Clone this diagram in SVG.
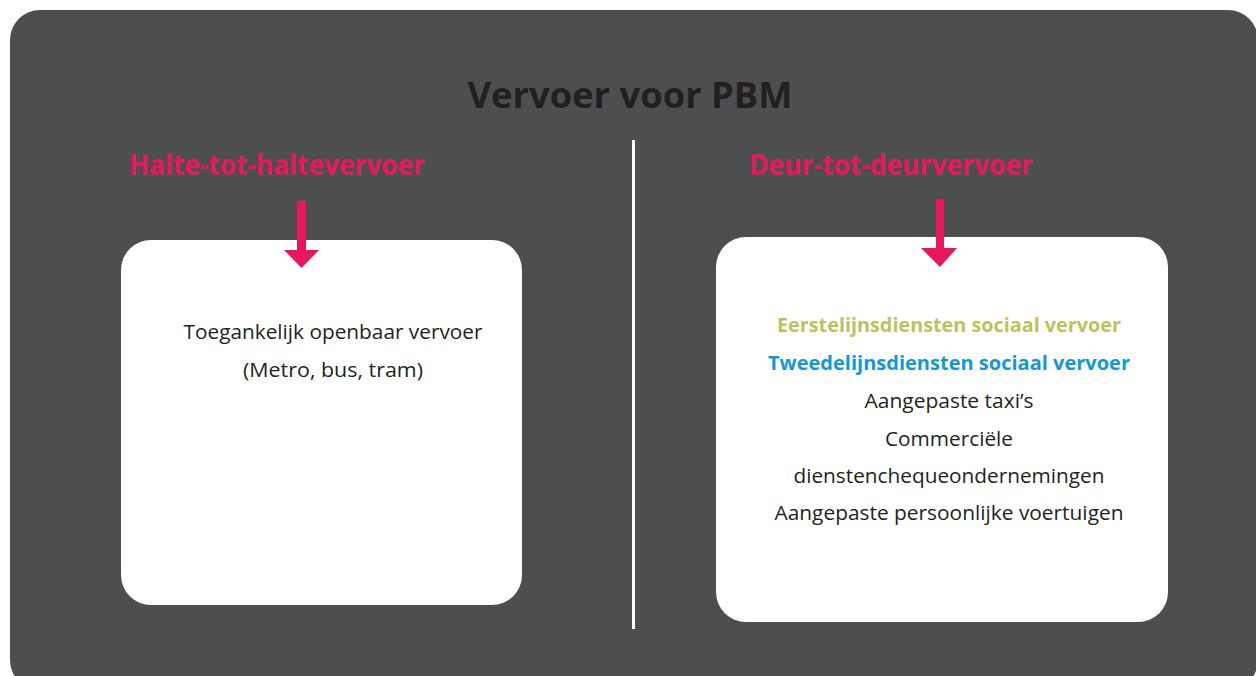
<svg xmlns="http://www.w3.org/2000/svg" width="1256" height="676" viewBox="0 0 1256 676">
  <style>
    .t { font-family: "Open Sans", "Liberation Sans", sans-serif; text-anchor: middle; }
    .title { font-size: 35px; font-weight: bold; fill: #231F20; }
    .head { font-size: 28px; font-weight: bold; fill: #E8175D; }
    .body { font-size: 19.5px; fill: #231F20; }
    .bold { font-size: 19.5px; font-weight: bold; }
    .box { fill: #FFFFFF; }
    .arrow { fill: #E8175D; }
  </style>
  <rect x="0" y="0" width="1256" height="676" fill="#FFFFFF"/>
  <g id="background">
    <rect x="10" y="10" width="1248" height="680" rx="30" ry="30" fill="#4D4E50"/>
  </g>
  <g id="title">
    <text class="t title" x="630" y="108" textLength="325" lengthAdjust="spacingAndGlyphs">Vervoer voor PBM</text>
  </g>
  <g id="divider">
    <rect x="632" y="140" width="3" height="489" fill="#FFFFFF"/>
  </g>
  <g id="halte-heading">
    <text class="t head" x="277" y="175" textLength="296" lengthAdjust="spacingAndGlyphs">Halte-tot-haltevervoer</text>
  </g>
  <g id="deur-heading">
    <text class="t head" x="891" y="175" textLength="284" lengthAdjust="spacingAndGlyphs">Deur-tot-deurvervoer</text>
  </g>
  <g id="halte-box">
    <rect class="box" x="121" y="240" width="401" height="365" rx="30" ry="30"/>
    <text class="t body" x="333" y="339" textLength="299" lengthAdjust="spacingAndGlyphs">Toegankelijk openbaar vervoer</text>
    <text class="t body" x="333" y="377" textLength="180" lengthAdjust="spacingAndGlyphs">(Metro, bus, tram)</text>
  </g>
  <g id="deur-box">
    <rect class="box" x="716" y="237" width="452" height="385" rx="30" ry="30"/>
    <text class="t bold" x="949" y="332" fill="#BCC35E" textLength="344" lengthAdjust="spacingAndGlyphs">Eerstelijnsdiensten sociaal vervoer</text>
    <text class="t bold" x="949" y="370" fill="#1597D7" textLength="362" lengthAdjust="spacingAndGlyphs">Tweedelijnsdiensten sociaal vervoer</text>
    <text class="t body" x="949" y="408" textLength="169" lengthAdjust="spacingAndGlyphs">Aangepaste taxi’s</text>
    <text class="t body" x="949" y="446" textLength="128" lengthAdjust="spacingAndGlyphs">Commerciële</text>
    <text class="t body" x="949" y="483" textLength="311" lengthAdjust="spacingAndGlyphs">dienstenchequeondernemingen</text>
    <text class="t body" x="949" y="520" textLength="349" lengthAdjust="spacingAndGlyphs">Aangepaste persoonlijke voertuigen</text>
  </g>
  <g id="connectors">
    <path class="arrow" d="M297,201 H306 V250 H319 L301.5,268 L284,250 H297 Z"/>
    <path class="arrow" d="M936,199 H944 V248 H957 L940,267 L921,248 H936 Z"/>
  </g>
</svg>
